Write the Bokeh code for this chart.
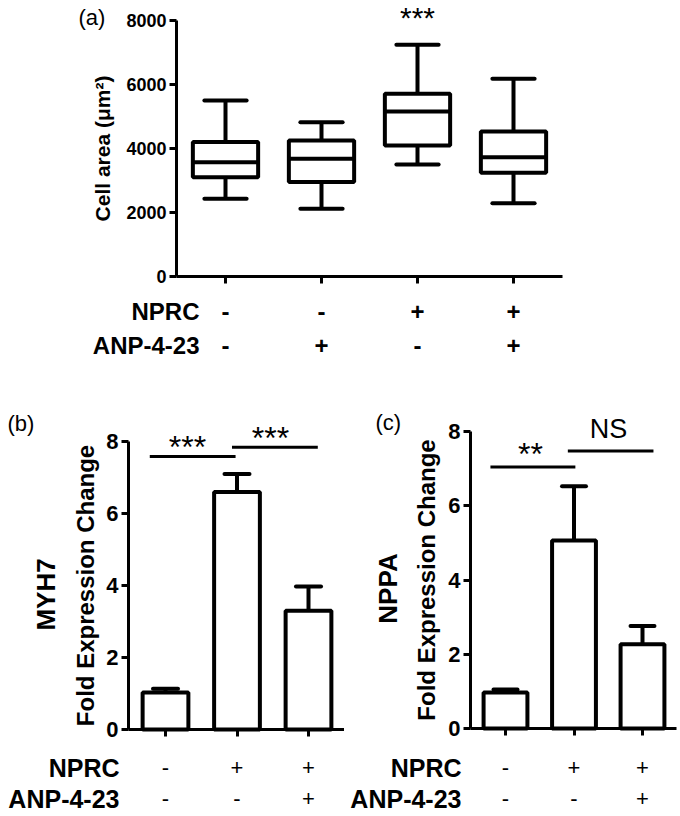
import math
from bokeh.plotting import figure
from bokeh.layouts import column, row
from bokeh.models import ColumnDataSource, FixedTicker, Range1d
from bokeh.embed import file_html
from bokeh.resources import INLINE
from bokeh.core.properties import value

# ---------------- data ----------------
cell_groups = [0, 1, 2, 3]
cell_min = [2430, 2120, 3500, 2290]
cell_q1 = [3100, 2950, 4090, 3240]
cell_med = [3570, 3680, 5160, 3730]
cell_q3 = [4200, 4250, 5710, 4530]
cell_max = [5500, 4820, 7240, 6180]
cell_ticks = [0, 2000, 4000, 6000, 8000]
cell_sig = "***"
nprc_a = ["-", "-", "+", "+"]
anp_a = ["-", "+", "-", "+"]
row_names = ["NPRC", "ANP-4-23"]

expr_groups = [0, 1, 2]
myh7_mean = [1.03, 6.60, 3.30]
myh7_err = [0.10, 0.50, 0.67]
nppa_mean = [0.97, 5.07, 2.27]
nppa_err = [0.08, 1.46, 0.49]
expr_ticks = [0, 2, 4, 6, 8]
nprc_bc = ["-", "+", "+"]
anp_bc = ["-", "-", "+"]

myh7_sig_x0 = [-0.22, 0.93]
myh7_sig_x1 = [0.98, 2.13]
myh7_sig_y = [7.58, 7.84]
myh7_sig_text = ["***", "***"]
nppa_sig_x0 = [-0.22, 0.91]
nppa_sig_x1 = [1.02, 2.16]
nppa_sig_y = [7.05, 7.48]
nppa_sig_text = ["**", "NS"]

FONT = "Liberation Sans"


class Map:
    """pixel (page) -> data mapping for one panel"""
    def __init__(self, cx0, cdx, cy0, cdy):
        self.cx0, self.cdx, self.cy0, self.cdy = cx0, cdx, cy0, cdy

    def x(self, px):
        return (px - self.cx0) / self.cdx

    def y(self, py):
        return (self.cy0 - py) / self.cdy


def make_fig(m, page_box, axis_px, axis_end_px, ymax, xticks, yticks, ytick_size):
    l, t, r, b = page_box
    p = figure(width=r - l, height=b - t,
               x_range=Range1d(m.x(l), m.x(r)), y_range=Range1d(m.y(b), m.y(t)),
               output_backend="svg", toolbar_location=None,
               min_border_left=0, min_border_right=0, min_border_top=0, min_border_bottom=0)
    p.grid.visible = False
    p.outline_line_color = None
    p.background_fill_color = "white"
    p.border_fill_color = "white"
    for ax in p.axis:
        ax.axis_line_width = 3
        ax.axis_line_color = "black"
        ax.major_tick_line_width = 3
        ax.major_tick_line_color = "black"
        ax.major_tick_out = 7
        ax.major_tick_in = 0
        ax.minor_tick_line_color = None
        ax.major_label_text_font = FONT
        ax.major_label_text_font_style = "bold"
        ax.major_label_text_color = "black"
        ax.major_label_standoff = 3
        ax.axis_label_text_font = FONT
        ax.axis_label_text_font_style = "bold"
        ax.axis_label_text_color = "black"
    p.xaxis.ticker = FixedTicker(ticks=xticks)
    p.xaxis.major_label_text_font_size = "0px"
    p.xaxis.major_label_text_color = None
    p.xaxis.fixed_location = 0
    p.xaxis.bounds = (m.x(axis_px), m.x(axis_end_px))
    p.yaxis.ticker = FixedTicker(ticks=yticks)
    p.yaxis.fixed_location = m.x(axis_px)
    p.yaxis.bounds = (0, ymax)
    p.yaxis.major_label_text_font_size = ytick_size
    return p


def add_text(p, xs, ys, texts, size, style="normal", align="center", angle=0.0):
    src = ColumnDataSource(dict(x=xs, y=ys, t=texts))
    p.text(x="x", y="y", text="t", source=src, angle=angle, text_font=value(FONT),
           text_font_size=size, text_font_style=style, text_align=align,
           text_baseline="middle", text_color="black")


# ---------------- panel (a) ----------------
ma = Map(225, 96.0, 276, 256 / 8000.0)
pa = make_fig(ma, (0, 0, 680, 383), 176, 562, 8000, cell_groups, cell_ticks, "18px")
pa.yaxis.axis_label = "Cell area (\u03bcm\u00b2)"
pa.yaxis.axis_label_text_font_size = "21px"
pa.yaxis.axis_label_standoff = 9

BOX_W = 0.68
CAP_W = 0.44
src_a = ColumnDataSource(dict(
    x=cell_groups, lo=cell_min, q1=cell_q1, med=cell_med, q3=cell_q3, hi=cell_max,
    xl=[g - BOX_W / 2 for g in cell_groups], xr=[g + BOX_W / 2 for g in cell_groups],
    cl=[g - CAP_W / 2 for g in cell_groups], cr=[g + CAP_W / 2 for g in cell_groups],
))
pa.segment(x0="x", y0="q3", x1="x", y1="hi", source=src_a, line_width=4, line_color="black")
pa.segment(x0="x", y0="q1", x1="x", y1="lo", source=src_a, line_width=4, line_color="black")
pa.vbar(x="x", width=BOX_W, bottom="q1", top="q3", source=src_a, fill_color="white",
        line_color="black", line_width=4)
pa.segment(x0="xl", y0="med", x1="xr", y1="med", source=src_a, line_width=4, line_color="black")
pa.segment(x0="cl", y0="hi", x1="cr", y1="hi", source=src_a, line_width=4, line_color="black",
           line_cap="round")
pa.segment(x0="cl", y0="lo", x1="cr", y1="lo", source=src_a, line_width=4, line_color="black",
           line_cap="round")

add_text(pa, [ma.x(78)], [ma.y(17)], ["(a)"], "22px", align="left")
add_text(pa, [cell_groups[2]], [ma.y(17)], [cell_sig], "30px")
ya = [ma.y(311), ma.y(345)]
add_text(pa, [ma.x(199)] * 2, ya, row_names, "24px", style="bold", align="right")
add_text(pa, cell_groups + cell_groups, [ya[0]] * 4 + [ya[1]] * 4, nprc_a + anp_a, "24px",
         style="bold")


# ---------------- panels (b) and (c) ----------------
def bar_panel(m, box, axis_px, axis_end_px, mean, err, gene, gene_px, tag, tag_px,
              sx0, sx1, sy, stext, stext_px, row_right_px, fold_standoff):
    p = make_fig(m, box, axis_px, axis_end_px, 8, expr_groups, expr_ticks, "22px")
    p.yaxis.axis_label = "Fold Expression Change"
    p.yaxis.axis_label_text_font_size = "24px"
    p.yaxis.axis_label_standoff = fold_standoff

    BW = 0.64
    EW = 0.35
    src = ColumnDataSource(dict(
        x=expr_groups, m=mean, hi=[a + e for a, e in zip(mean, err)],
        el=[g - EW / 2 for g in expr_groups], er=[g + EW / 2 for g in expr_groups]))
    p.vbar(x="x", width=BW, bottom=0, top="m", source=src, fill_color="white",
           line_color="black", line_width=4)
    p.segment(x0="x", y0="m", x1="x", y1="hi", source=src, line_width=4, line_color="black")
    p.segment(x0="el", y0="hi", x1="er", y1="hi", source=src, line_width=4, line_color="black",
              line_cap="round")

    p.segment(x0=sx0, y0=sy, x1=sx1, y1=sy, line_width=3, line_color="black")
    for (tx, ty, size), t in zip(stext_px, stext):
        add_text(p, [m.x(tx)], [m.y(ty)], [t], size)

    add_text(p, [m.x(gene_px[0])], [m.y(gene_px[1])], [gene], "26px", style="bold",
             angle=math.pi / 2)
    add_text(p, [m.x(tag_px[0])], [m.y(tag_px[1])], [tag], "22px", align="left")

    ry = [m.y(767), m.y(798)]
    add_text(p, [m.x(row_right_px)] * 2, ry, row_names, "25px", style="bold", align="right")
    add_text(p, expr_groups + expr_groups, [ry[0]] * 3 + [ry[1]] * 3, nprc_bc + anp_bc, "22px")
    return p


mb = Map(165, 71.5, 729, 36.0)
pb = bar_panel(mb, (0, 383, 344, 816), 128, 344, myh7_mean, myh7_err, "MYH7", (45, 594),
               "(b)", (7, 423), myh7_sig_x0, myh7_sig_x1, myh7_sig_y, myh7_sig_text,
               [(187, 446, "32px"), (270, 437, "32px")], 119, 4)

mc = Map(505, 68.5, 728, 37.1)
pc = bar_panel(mc, (344, 383, 680, 816), 470, 676, nppa_mean, nppa_err, "NPPA", (387, 588),
               "(c)", (375, 422), nppa_sig_x0, nppa_sig_x1, nppa_sig_y, nppa_sig_text,
               [(530, 453, "32px"), (608, 428, "27px")], 461, 5)

layout = column(pa, row(pb, pc))
open("out.html", "w").write(file_html(layout, INLINE))
